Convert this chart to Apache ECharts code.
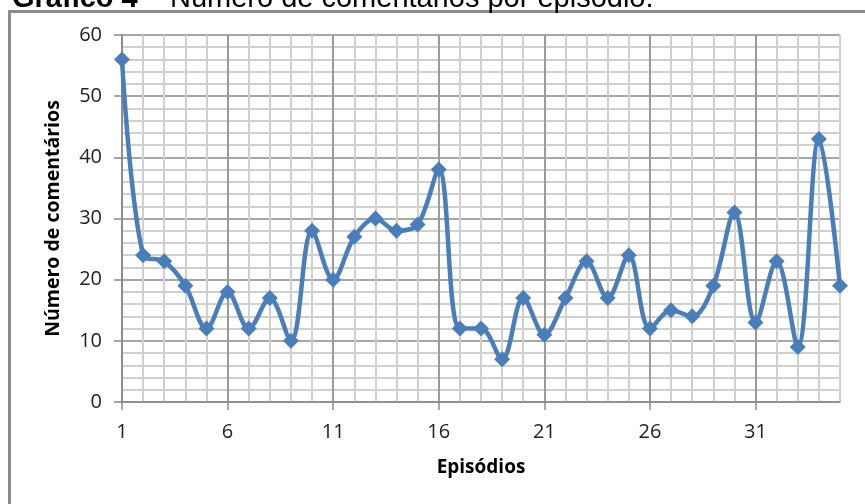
<!DOCTYPE html>
<html>
<head>
<meta charset="utf-8">
<script src="https://cdn.jsdelivr.net/npm/echarts@6/dist/echarts.min.js"></script>
<style>html,body{margin:0;padding:0;background:#fff;}#c{width:865px;height:504px;}</style>
</head>
<body>
<div id="c"></div>
<script>
const episodes = ['1','2','3','4','5','6','7','8','9','10','11','12','13','14','15','16','17','18','19','20','21','22','23','24','25','26','27','28','29','30','31','32','33','34','35'];
const comments = [56,24,23,19,12,18,12,17,10,28,20,27,30,28,29,38,12,12,7,17,11,17,23,17,24,12,15,14,19,31,13,23,9,43,19];
const titleBold = 'Gráfico 4';
const titleRest = ' – Número de comentários por episódio.';
const yTitle = 'Número de comentários';
const xTitle = 'Episódios';

const chart = echarts.init(document.getElementById('c'), null, {renderer: 'canvas'});
const major = '#8a8a8a';
const minor = '#d0d0d0';
const labelFont = "'Open Sans', sans-serif";
chart.setOption({
  animation: false,
  backgroundColor: '#fff',
  graphic: [
    {type: 'rect', left: 7, top: 9, shape: {x: 0, y: 0, width: 900, height: 600},
     style: {fill: 'none', stroke: '#8c8c8c', lineWidth: 3}, z: 0},
    {type: 'text', left: 12, top: -16,
     style: {text: '{b|' + titleBold + '}' + titleRest, font: "29px 'Liberation Sans', Arial, sans-serif", fill: '#000',
       rich: {b: {fontWeight: 'bold', fontSize: 29, fontFamily: "'Liberation Sans', Arial, sans-serif"}}}, z: 10}
  ],
  grid: {left: 122, right: 25, top: 35, bottom: 102, containLabel: false},
  xAxis: [
    {type: 'category', data: episodes, boundaryGap: false,
     name: xTitle, nameLocation: 'middle', nameGap: 56,
     nameTextStyle: {fontFamily: labelFont, fontWeight: 'bold', fontSize: 19, color: '#000'},
     axisLine: {show: true, lineStyle: {color: major, width: 1.5}},
     axisTick: {show: true, interval: 4, length: 8, alignWithLabel: true, lineStyle: {color: major, width: 1.5}},
     axisLabel: {interval: 4, margin: 20, fontFamily: labelFont, fontSize: 20, color: '#222'},
     splitLine: {show: true, interval: 0, lineStyle: {color: minor, width: 2}}},
    {type: 'category', data: episodes, boundaryGap: false, position: 'bottom',
     axisLine: {show: false}, axisTick: {show: false}, axisLabel: {show: false},
     splitLine: {show: true, interval: 4, lineStyle: {color: major, width: 1.5}}}
  ],
  yAxis: {
    type: 'value', min: 0, max: 60, interval: 10,
    name: yTitle, nameLocation: 'middle', nameGap: 59,
    nameTextStyle: {fontFamily: labelFont, fontWeight: 'bold', fontSize: 19.5, color: '#000'},
    axisLine: {show: true, lineStyle: {color: major, width: 1.5}},
    axisTick: {show: true, length: 8, lineStyle: {color: major, width: 1.5}},
    axisLabel: {margin: 20, fontFamily: labelFont, fontSize: 20, color: '#222'},
    splitLine: {show: true, lineStyle: {color: major, width: 1.5}},
    minorTick: {show: false, splitNumber: 5},
    minorSplitLine: {show: true, lineStyle: {color: minor, width: 2}}
  },
  series: [{
    type: 'line', data: comments, smooth: 0.35,
    symbol: 'diamond', symbolSize: 16, showSymbol: true, showAllSymbol: true,
    lineStyle: {color: '#4a7ebb', width: 4.5},
    itemStyle: {color: '#4a7ebb'},
    z: 5
  }]
});
</script>
</body>
</html>
